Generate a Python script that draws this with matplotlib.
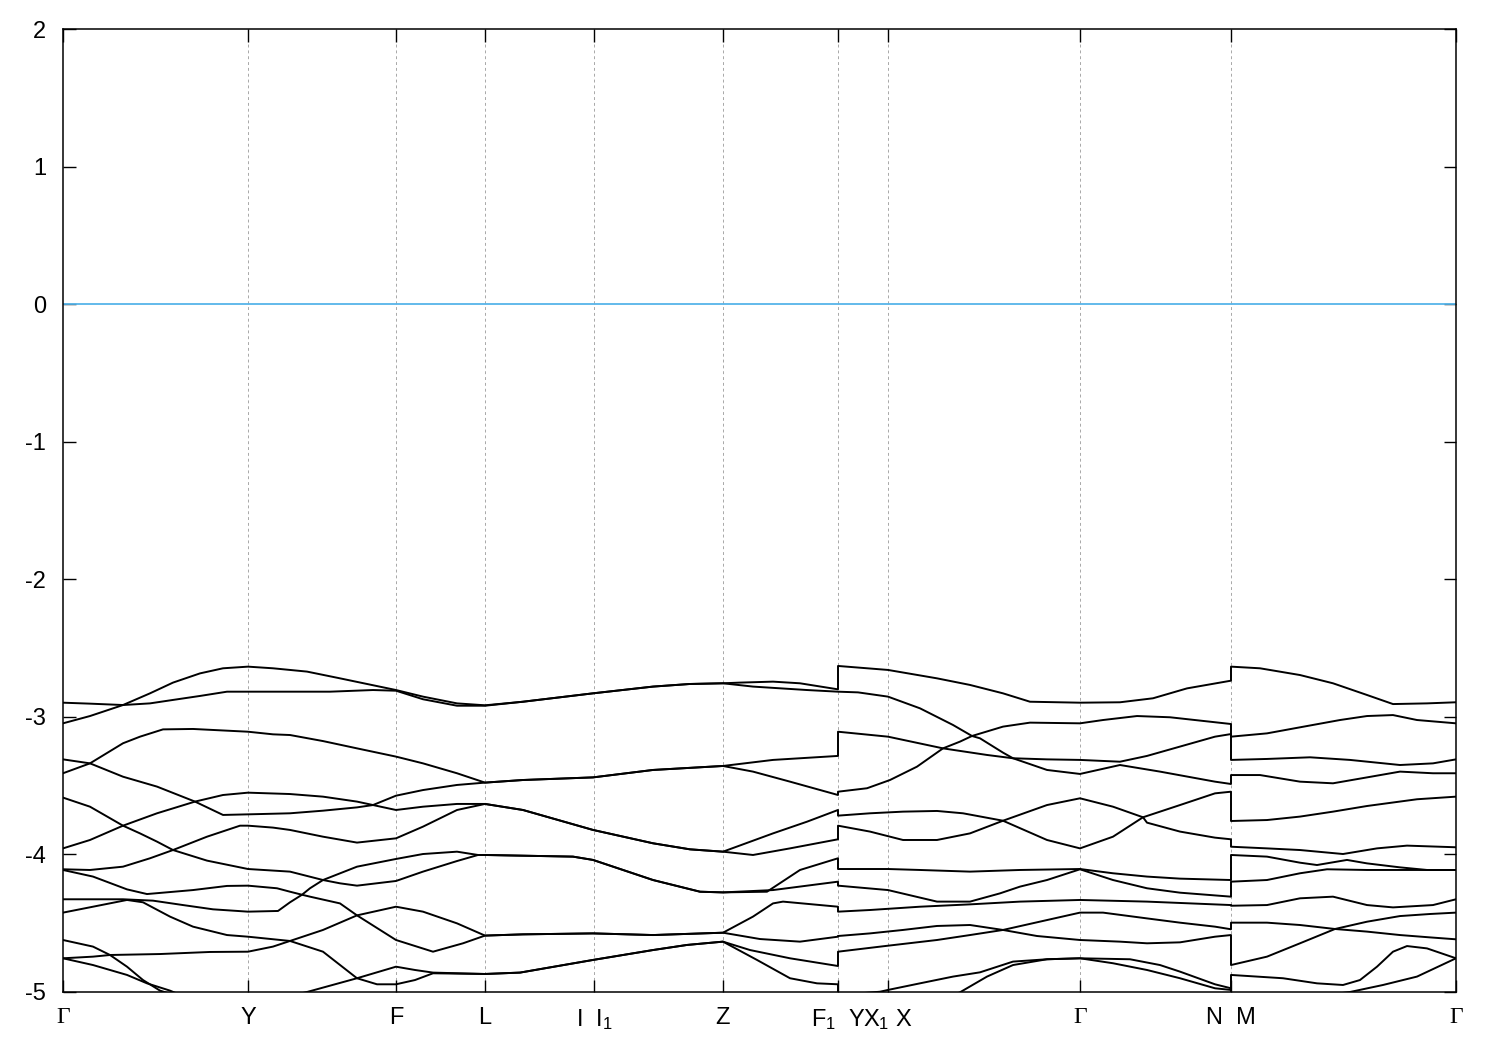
import matplotlib
matplotlib.use('Agg')
import matplotlib.pyplot as plt
import numpy as np

plt.rcParams['font.family'] = ['Liberation Sans', 'DejaVu Sans']
plt.rcParams['axes.unicode_minus'] = False
plt.rcParams['mathtext.fontset'] = 'custom'
plt.rcParams['mathtext.rm'] = 'Liberation Sans'
plt.rcParams['mathtext.it'] = 'Liberation Sans:italic'
fs = 17  # fontsize
th = 1.4  # band line thickness

# high symmetry points along the k-path
kticks = [0.0, 0.185, 0.333, 0.422, 0.531, 0.660, 0.775, 0.825, 1.017, 1.168, 1.393]
klabels = ['Γ', 'Y', 'F', 'L', 'I  I$_1$', 'Z', 'F$_1$  Y', 'X$_1$ X', 'Γ', 'N  M', 'Γ']
ygrid = [-5, -4, -3, -2, -1, 0, 1, 2]

# bands (eV), path pieces G-Y-F-L-I|I1-Z-F1 , Y-X1|X-G-N , M-G (repeated k = jump)
b1_k = [0, .027, .060, .087, .110, .137, .160, .185, .210, .244, .277, .333, .360, .394, .422, .460, .530, .590, .627, .660, .677, .710, .737, .775,
        .775, .825, .874, .907, .940, .967, 1.017, 1.057, 1.090, 1.124, 1.168,
        1.168, 1.197, 1.237, 1.270, 1.304, 1.330, 1.364, 1.393]
b1_e = [-2.897, -2.904, -2.914, -2.829, -2.751, -2.684, -2.647, -2.635, -2.647, -2.671, -2.720, -2.805, -2.853, -2.902, -2.916, -2.890, -2.829, -2.780, -2.761, -2.756, -2.751, -2.744, -2.756, -2.800,
        -2.630, -2.659, -2.720, -2.768, -2.829, -2.890, -2.897, -2.894, -2.865, -2.793, -2.737,
        -2.635, -2.647, -2.696, -2.756, -2.841, -2.907, -2.902, -2.894]

b2_k = [0, .027, .060, .087, .110, .137, .164, .185, .267, .310, .333, .360, .394, .422, .460, .530, .590, .627, .660, .690, .744, .775,
        .775, .795, .825, .857, .890, .909, .940, .967, 1.017, 1.040, 1.074, 1.107, 1.168,
        1.168, 1.204, 1.237, 1.277, 1.304, 1.330, 1.354, 1.393]
b2_e = [-3.047, -2.994, -2.914, -2.902, -2.877, -2.848, -2.817, -2.817, -2.817, -2.805, -2.810, -2.872, -2.919, -2.919, -2.890, -2.829, -2.780, -2.761, -2.756, -2.780, -2.805, -2.817,
        -2.817, -2.822, -2.853, -2.938, -3.059, -3.139, -3.071, -3.042, -3.047, -3.023, -2.994, -3.003, -3.052,
        -3.144, -3.120, -3.076, -3.023, -2.994, -2.987, -3.023, -3.047]

b3_k = [0, .027, .060, .077, .100, .130, .185, .210, .227, .260, .294, .333, .360, .394, .422, .460, .530, .590, .660, .710, .775,
        .775, .825, .880, .897, .909, .917, .940, .950, .984, 1.017, 1.057, 1.084, 1.152, 1.168,
        1.168, 1.204, 1.247, 1.287, 1.337, 1.370, 1.393]
b3_e = [-3.309, -3.338, -3.192, -3.144, -3.091, -3.088, -3.108, -3.127, -3.132, -3.176, -3.229, -3.289, -3.338, -3.410, -3.478, -3.459, -3.440, -3.386, -3.357, -3.313, -3.284,
        -3.108, -3.144, -3.229, -3.180, -3.139, -3.156, -3.260, -3.301, -3.309, -3.313, -3.326, -3.284, -3.144, -3.125,
        -3.313, -3.306, -3.294, -3.313, -3.350, -3.338, -3.309]

b4_k = [0, .027, .060, .094, .132, .160, .185, .227, .260, .294, .310, .333, .360, .394, .422, .460, .530, .590, .660, .690, .727, .775,
        .775, .804, .827, .854, .880, .924, .950, .984, 1.017, 1.057, 1.097, 1.152, 1.168,
        1.168, 1.197, 1.237, 1.270, 1.304, 1.337, 1.370, 1.393]
b4_e = [-3.410, -3.338, -3.435, -3.507, -3.616, -3.568, -3.551, -3.561, -3.580, -3.616, -3.641, -3.573, -3.532, -3.495, -3.478, -3.459, -3.440, -3.386, -3.357, -3.398, -3.471, -3.568,
        -3.544, -3.519, -3.459, -3.362, -3.229, -3.277, -3.301, -3.386, -3.415, -3.350, -3.398, -3.471, -3.488,
        -3.423, -3.423, -3.471, -3.483, -3.440, -3.398, -3.410, -3.410]

b5_k = [0, .027, .060, .094, .132, .160, .200, .227, .260, .294, .310, .333, .360, .394, .422, .460, .530, .590, .627, .660, .710, .744, .775,
        .775, .807, .840, .874, .900, .940, .984, 1.017, 1.050, 1.080, 1.117, 1.152, 1.168,
        1.168, 1.204, 1.237, 1.270, 1.304, 1.354, 1.393]
b5_e = [-3.587, -3.653, -3.791, -3.701, -3.616, -3.713, -3.706, -3.701, -3.682, -3.658, -3.641, -3.677, -3.653, -3.633, -3.633, -3.677, -3.822, -3.919, -3.963, -3.980, -3.847, -3.762, -3.677,
        -3.718, -3.701, -3.689, -3.684, -3.701, -3.755, -3.641, -3.592, -3.653, -3.730, -3.641, -3.556, -3.544,
        -3.757, -3.750, -3.725, -3.689, -3.648, -3.599, -3.580]

b6_k = [0, .027, .060, .077, .094, .110, .144, .177, .185, .210, .227, .260, .294, .333, .360, .394, .422, .460, .530, .590, .627, .660, .690, .727, .775,
        .775, .807, .840, .874, .907, .940, .984, 1.017, 1.050, 1.080, 1.084, 1.117, 1.152, 1.168,
        1.168, 1.204, 1.237, 1.280, 1.314, 1.344, 1.393]
b6_e = [-3.956, -3.895, -3.791, -3.847, -3.907, -3.968, -3.871, -3.791, -3.791, -3.805, -3.822, -3.871, -3.914, -3.883, -3.798, -3.677, -3.633, -3.677, -3.822, -3.919, -3.963, -3.980, -4.004, -3.956, -3.890,
        -3.791, -3.834, -3.895, -3.895, -3.847, -3.755, -3.895, -3.956, -3.871, -3.730, -3.769, -3.834, -3.878, -3.890,
        -3.944, -3.956, -3.968, -3.997, -3.956, -3.936, -3.948]

b7_k = [0, .027, .060, .087, .110, .144, .185, .227, .260, .294, .333, .360, .394, .415, .422, .510, .530, .590, .637, .660, .704, .737, .775,
        .775, .825, .857, .907, .957, 1.017, 1.050, 1.084, 1.117, 1.168,
        1.168, 1.204, 1.237, 1.254, 1.284, 1.304, 1.337, 1.364, 1.393]
b7_e = [-4.108, -4.113, -4.089, -4.028, -3.968, -4.045, -4.106, -4.125, -4.186, -4.089, -4.033, -3.997, -3.980, -4.004, -4.004, -4.016, -4.040, -4.186, -4.271, -4.276, -4.271, -4.113, -4.028,
        -4.106, -4.106, -4.113, -4.125, -4.113, -4.106, -4.137, -4.161, -4.176, -4.186,
        -4.004, -4.016, -4.060, -4.077, -4.040, -4.065, -4.094, -4.113, -4.113]

b8_k = [0, .030, .064, .084, .130, .164, .185, .214, .227, .239, .247, .260, .277, .294, .333, .360, .394, .415, .422, .510, .530, .590, .637, .660, .710, .775,
        .775, .825, .874, .907, .937, .957, .984, 1.017, 1.050, 1.084, 1.117, 1.168,
        1.168, 1.204, 1.237, 1.264, 1.304, 1.337, 1.393]
b8_e = [-4.113, -4.161, -4.254, -4.288, -4.259, -4.229, -4.227, -4.246, -4.271, -4.293, -4.246, -4.186, -4.210, -4.227, -4.193, -4.125, -4.048, -4.004, -4.004, -4.016, -4.040, -4.186, -4.271, -4.276, -4.259, -4.198,
        -4.227, -4.259, -4.343, -4.343, -4.283, -4.234, -4.186, -4.108, -4.186, -4.246, -4.278, -4.307,
        -4.198, -4.186, -4.137, -4.108, -4.113, -4.113, -4.113]

b9_k = [0, .060, .090, .120, .150, .185, .215, .227, .239, .247, .277, .294, .333, .360, .394, .422, .460, .530, .590, .660, .690, .710, .720, .775,
        .775, .807, .857, .907, .957, 1.017, 1.084, 1.168,
        1.168, 1.204, 1.237, 1.270, 1.304, 1.330, 1.370, 1.393]
b9_e = [-4.326, -4.326, -4.336, -4.368, -4.399, -4.416, -4.411, -4.348, -4.293, -4.307, -4.356, -4.443, -4.380, -4.416, -4.501, -4.590, -4.581, -4.574, -4.586, -4.569, -4.452, -4.356, -4.343, -4.380,
        -4.416, -4.404, -4.380, -4.363, -4.343, -4.331, -4.343, -4.368,
        -4.373, -4.368, -4.319, -4.307, -4.368, -4.385, -4.368, -4.326]

b10_k = [0, .030, .064, .080, .107, .130, .164, .185, .227, .260, .294, .333, .370, .400, .422, .460, .530, .590, .660, .697, .737, .775,
         .775, .807, .840, .874, .907, .940, .984, 1.017, 1.040, 1.084, 1.117, 1.152, 1.168,
         1.168, 1.204, 1.237, 1.272, 1.304, 1.337, 1.367, 1.393]
b10_e = [-4.423, -4.380, -4.331, -4.348, -4.452, -4.525, -4.586, -4.598, -4.629, -4.549, -4.443, -4.622, -4.707, -4.646, -4.590, -4.581, -4.574, -4.586, -4.569, -4.615, -4.634, -4.598,
         -4.593, -4.574, -4.549, -4.520, -4.513, -4.549, -4.477, -4.423, -4.423, -4.465, -4.496, -4.525, -4.544,
         -4.496, -4.496, -4.513, -4.542, -4.489, -4.448, -4.433, -4.423]

b11_k = [0, .030, .047, .097, .147, .185, .210, .227, .260, .294, .333, .352, .370, .422, .457, .530, .590, .624, .660, .687, .727, .775,
         .775, .822, .874, .907, .940, .974, 1.017, 1.057, 1.084, 1.117, 1.152, 1.168,
         1.168, 1.204, 1.237, 1.272, 1.304, 1.337, 1.367, 1.393]
b11_e = [-4.622, -4.670, -4.731, -4.724, -4.709, -4.707, -4.670, -4.629, -4.707, -4.900, -4.816, -4.840, -4.859, -4.869, -4.859, -4.767, -4.695, -4.658, -4.634, -4.695, -4.755, -4.811,
         -4.707, -4.666, -4.622, -4.586, -4.549, -4.593, -4.622, -4.634, -4.646, -4.639, -4.598, -4.586,
         -4.804, -4.743, -4.646, -4.542, -4.561, -4.586, -4.603, -4.617]

b12_k = [0, .030, .047, .064, .080, .097, .127, .185, .244, .294, .314, .333, .352, .370, .422, .457, .530, .590, .624, .660, .694, .727, .754, .775,
         .775, .797, .817, .825, .857, .890, .917, .950, .984, 1.017, 1.067, 1.097, 1.117, 1.152, 1.168,
         1.168, 1.220, 1.254, 1.280, 1.297, 1.314, 1.330, 1.344, 1.364, 1.393]
b12_e = [-4.755, -4.743, -4.731, -4.816, -4.913, -4.990, -5.058, -5.102, -5.000, -4.900, -4.944, -4.944, -4.913, -4.864, -4.869, -4.859, -4.767, -4.695, -4.658, -4.634, -4.767, -4.900, -4.937, -4.944,
         -5.015, -5.010, -4.998, -4.985, -4.937, -4.888, -4.857, -4.779, -4.762, -4.755, -4.762, -4.804, -4.852, -4.944, -4.973,
         -4.876, -4.900, -4.937, -4.949, -4.913, -4.816, -4.707, -4.666, -4.683, -4.755]

b13_k = [0, .030, .064, .084, .107, .137, np.nan,
         .887, .897, .924, .950, .984, 1.017, 1.050, 1.084, 1.117, 1.152, 1.168,
         1.168, 1.237, 1.287, 1.320, 1.354, 1.393]
b13_e = [-4.755, -4.804, -4.876, -4.937, -4.990, -5.082, np.nan,
         -5.034, -5.002, -4.888, -4.804, -4.762, -4.755, -4.791, -4.840, -4.900, -4.973, -4.985,
         -5.046, -5.046, -5.000, -4.949, -4.888, -4.755]

bands = [(b1_k, b1_e), (b2_k, b2_e), (b3_k, b3_e), (b4_k, b4_e), (b5_k, b5_e), (b6_k, b6_e), (b7_k, b7_e),
         (b8_k, b8_e), (b9_k, b9_e), (b10_k, b10_e), (b11_k, b11_e), (b12_k, b12_e), (b13_k, b13_e)]

fig = plt.figure(figsize=(15, 10.5), dpi=100)
ax = fig.add_axes([63/1500, 1-992/1050, (1456-63)/1500, (992-29)/1050])

for kk in kticks[1:-1]:
    ax.axvline(kk, color='#a8a8a8', lw=0.7, ls=(0, (3, 3)), zorder=1)

ax.axhline(0, color='#56b4e9', lw=1.3, zorder=2)

for k, e in bands:
    ax.plot(k, e, '-', color='k', lw=th, zorder=3)

ax.set_xlim(kticks[0], kticks[-1])
ax.set_ylim(-5, 2)
ax.set_yticks(ygrid)
ax.set_xticks(kticks)
ax.set_xticklabels(klabels)
for lab in ax.get_xticklabels():
    if lab.get_text() == 'Γ':
        lab.set_fontfamily(['Liberation Serif', 'DejaVu Serif'])

ax.tick_params(direction='in', length=9, width=1, top=True, right=True, labelsize=fs)
ax.tick_params(axis='x', pad=11)
ax.tick_params(axis='y', pad=12)
for s in ax.spines.values():
    s.set_linewidth(1.1)

plt.savefig('out.png', dpi=100)
